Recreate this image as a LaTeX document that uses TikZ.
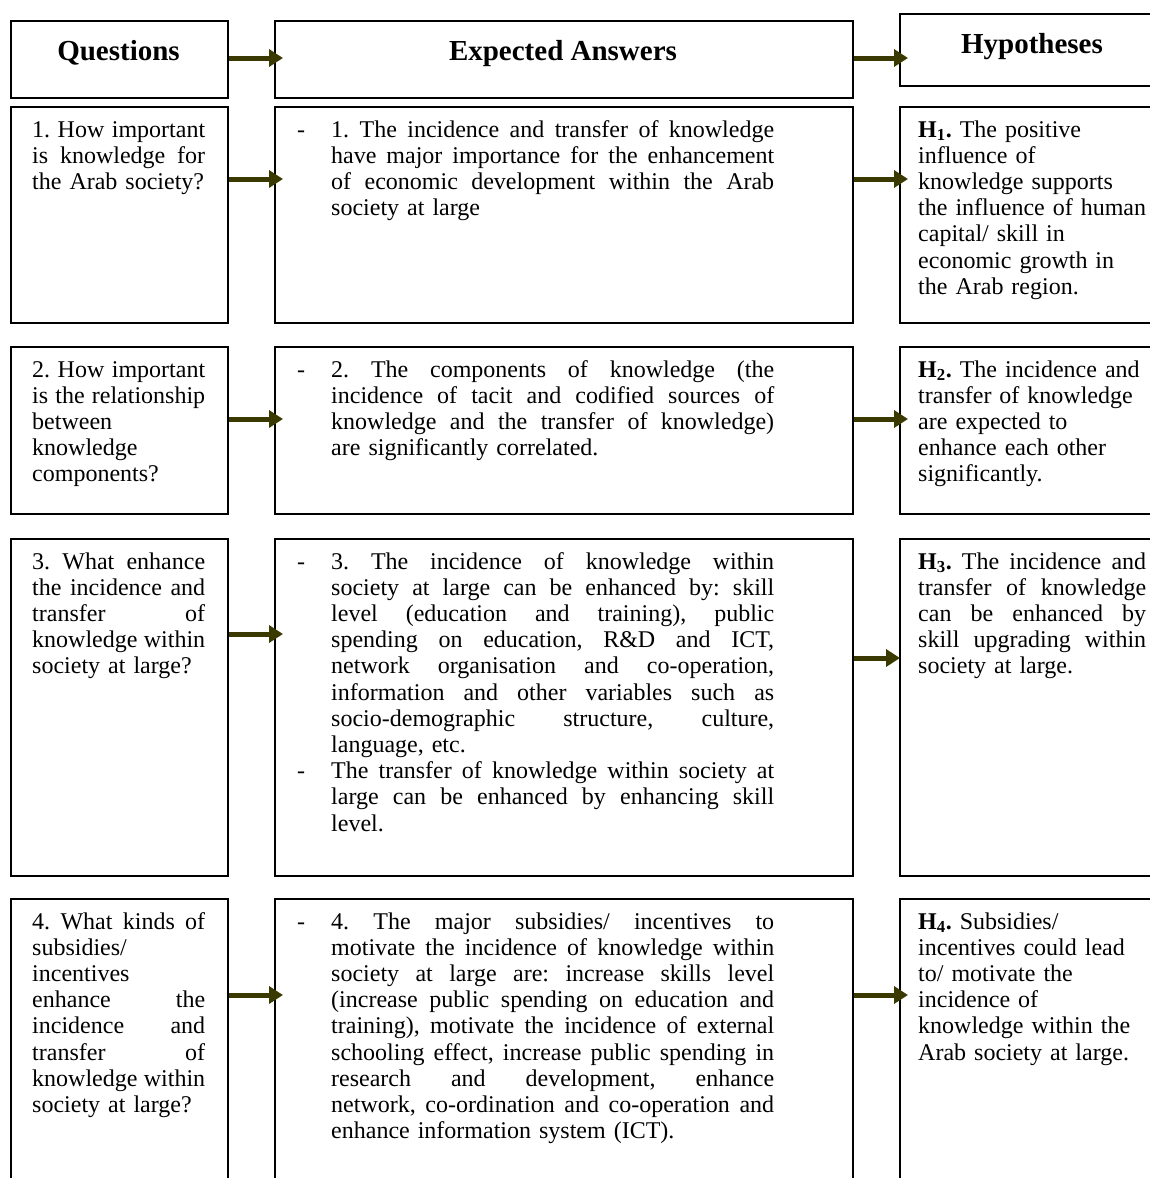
\documentclass[tikz,border=0pt]{standalone}
\usepackage{fontspec}
\setmainfont{Liberation Serif}
\usetikzlibrary{arrows.meta}
\definecolor{arrc}{RGB}{58,58,0}
\setlength{\parindent}{0pt}
\newcommand\jfill[2]{\leavevmode\hbox to #1{\spaceskip=.25em plus 20em minus .05em\relax\xspaceskip=0pt\relax #2}}
\newcommand\jA[1]{\jfill{173pt}{#1}}
\newcommand\jB[1]{\jfill{443pt}{#1}}
\newcommand\jC[1]{\jfill{228pt}{#1}}
\newcommand\dsh{\leavevmode\llap{\makebox[34pt][l]{-}}}
\newcommand\Hs[1]{\textbf{H\textsubscript{#1}.}}
\begin{document}
\begin{tikzpicture}[x=1pt, y=-1pt,
  box/.style={draw, line width=1.8pt, anchor=north west, inner sep=0pt},
  txt/.style={anchor=base west, inner sep=0pt, font=\fontsize{24}{26.2}\selectfont\frenchspacing},
  txtA/.style={txt, text width=173pt},
  txtB/.style={txt, text width=443pt},
  txtC/.style={txt, text width=228pt},
  hd/.style={anchor=base, inner sep=0pt, font=\fontsize{29}{32}\selectfont\bfseries},
  arr/.style={draw=arrc, line width=5pt, -{Triangle[length=14pt,width=17pt]}}]
\useasboundingbox (0,0) rectangle (1150,1178);
\clip (0,0) rectangle (1150,1178);
\fill[white] (0,0) rectangle (1150,1178);

% header boxes
\node[box, minimum width=217pt, minimum height=77pt] (hq) at (10,20) {};
\node[box, minimum width=578pt, minimum height=77pt] (ha) at (274,20) {};
\node[box, minimum width=266pt, minimum height=72pt] (hh) at (899,13) {};
% row 1
\node[box, minimum width=217pt, minimum height=216pt] (q1) at (10,106) {};
\node[box, minimum width=578pt, minimum height=216pt] (a1) at (274,106) {};
\node[box, minimum width=266pt, minimum height=216pt] (h1) at (899,106) {};
% row 2
\node[box, minimum width=217pt, minimum height=167pt] (q2) at (10,346) {};
\node[box, minimum width=578pt, minimum height=167pt] (a2) at (274,346) {};
\node[box, minimum width=266pt, minimum height=167pt] (h2) at (899,346) {};
% row 3
\node[box, minimum width=217pt, minimum height=337pt] (q3) at (10,538) {};
\node[box, minimum width=578pt, minimum height=337pt] (a3) at (274,538) {};
\node[box, minimum width=266pt, minimum height=337pt] (h3) at (899,538) {};
% row 4
\node[box, minimum width=217pt, minimum height=330pt] (q4) at (10,898) {};
\node[box, minimum width=578pt, minimum height=330pt] (a4) at (274,898) {};
\node[box, minimum width=266pt, minimum height=330pt] (h4) at (899,898) {};

% header texts
\node[hd] (hqt) at (118.5,60) {Questions};
\node[hd] (hat) at (563,60) {Expected Answers};
\node[hd] (hht) at (1032,53) {Hypotheses};

% row 1 texts
\node[txtA] (q1t) at (32,137) {\jA{1. How important}\\\jA{is knowledge for}\\the Arab society?};
\node[txtB] (a1t) at (331,137) {\dsh\jB{1. The incidence and transfer of knowledge}\\
\jB{have major importance for the enhancement}\\
\jB{of economic development within the Arab}\\
society at large};
\node[txtC] (h1t) at (918,137) {\Hs{1} The positive\\influence of\\knowledge supports\\the influence of human\\capital/ skill in\\economic growth in\\the Arab region.};

% row 2 texts
\node[txtA] (q2t) at (32,377) {\jA{2. How important}\\\jA{is the relationship}\\between\\knowledge\\components?};
\node[txtB] (a2t) at (331,377) {\dsh\jB{2. The components of knowledge (the}\\
\jB{incidence of tacit and codified sources of}\\
\jB{knowledge and the transfer of knowledge)}\\
are significantly correlated.};
\node[txtC] (h2t) at (918,377) {\Hs{2} The incidence and\\transfer of knowledge\\are expected to\\enhance each other\\significantly.};

% row 3 texts
\node[txtA] (q3t) at (32,569) {\jA{3. What enhance}\\\jA{the incidence and}\\\jA{transfer of}\\\jA{knowledge within}\\society at large?};
\node[txtB] (a3t) at (331,569) {\dsh\jB{3. The incidence of knowledge within}\\
\jB{society at large can be enhanced by: skill}\\
\jB{level (education and training), public}\\
\jB{spending on education, R\&D and ICT,}\\
\jB{network organisation and co-operation,}\\
\jB{information and other variables such as}\\
\jB{socio-demographic structure, culture,}\\
language, etc.\\
\dsh\jB{The transfer of knowledge within society at}\\
\jB{large can be enhanced by enhancing skill}\\
level.};
\node[txtC] (h3t) at (918,569) {\jC{\Hs{3} The incidence and}\\\jC{transfer of knowledge}\\\jC{can be enhanced by}\\\jC{skill upgrading within}\\society at large.};

% row 4 texts
\node[txtA] (q4t) at (32,929) {\jA{4. What kinds of}\\subsidies/\\incentives\\\jA{enhance the}\\\jA{incidence and}\\\jA{transfer of}\\\jA{knowledge within}\\society at large?};
\node[txtB] (a4t) at (331,929) {\dsh\jB{4. The major subsidies/ incentives to}\\
\jB{motivate the incidence of knowledge within}\\
\jB{society at large are: increase skills level}\\
\jB{(increase public spending on education and}\\
\jB{training), motivate the incidence of external}\\
\jB{schooling effect, increase public spending in}\\
\jB{research and development, enhance}\\
\jB{network, co-ordination and co-operation and}\\
enhance information system (ICT).};
\node[txtC] (h4t) at (918,929) {\Hs{4} Subsidies/\\incentives could lead\\to/ motivate the\\incidence of\\knowledge within the\\Arab society at large.};

% arrows
\draw[arr] ([yshift=-38pt]hq.north east) -- ([xshift=9pt,yshift=-38pt]ha.north west);
\draw[arr] ([yshift=-38pt]ha.north east) -- ([xshift=9pt,yshift=-45pt]hh.north west);
\draw[arr] ([yshift=-73pt]q1.north east) -- ([xshift=9pt,yshift=-73pt]a1.north west);
\draw[arr] ([yshift=-73pt]a1.north east) -- ([xshift=9pt,yshift=-73pt]h1.north west);
\draw[arr] ([yshift=-73pt]q2.north east) -- ([xshift=9pt,yshift=-73pt]a2.north west);
\draw[arr] ([yshift=-73pt]a2.north east) -- ([xshift=9pt,yshift=-73pt]h2.north west);
\draw[arr] ([yshift=-96pt]q3.north east) -- ([xshift=9pt,yshift=-96pt]a3.north west);
\draw[arr] ([yshift=-120pt]a3.north east) -- ([xshift=1pt,yshift=-120pt]h3.north west);
\draw[arr] ([yshift=-97pt]q4.north east) -- ([xshift=9pt,yshift=-97pt]a4.north west);
\draw[arr] ([yshift=-97pt]a4.north east) -- ([xshift=9pt,yshift=-97pt]h4.north west);
\end{tikzpicture}
\end{document}
